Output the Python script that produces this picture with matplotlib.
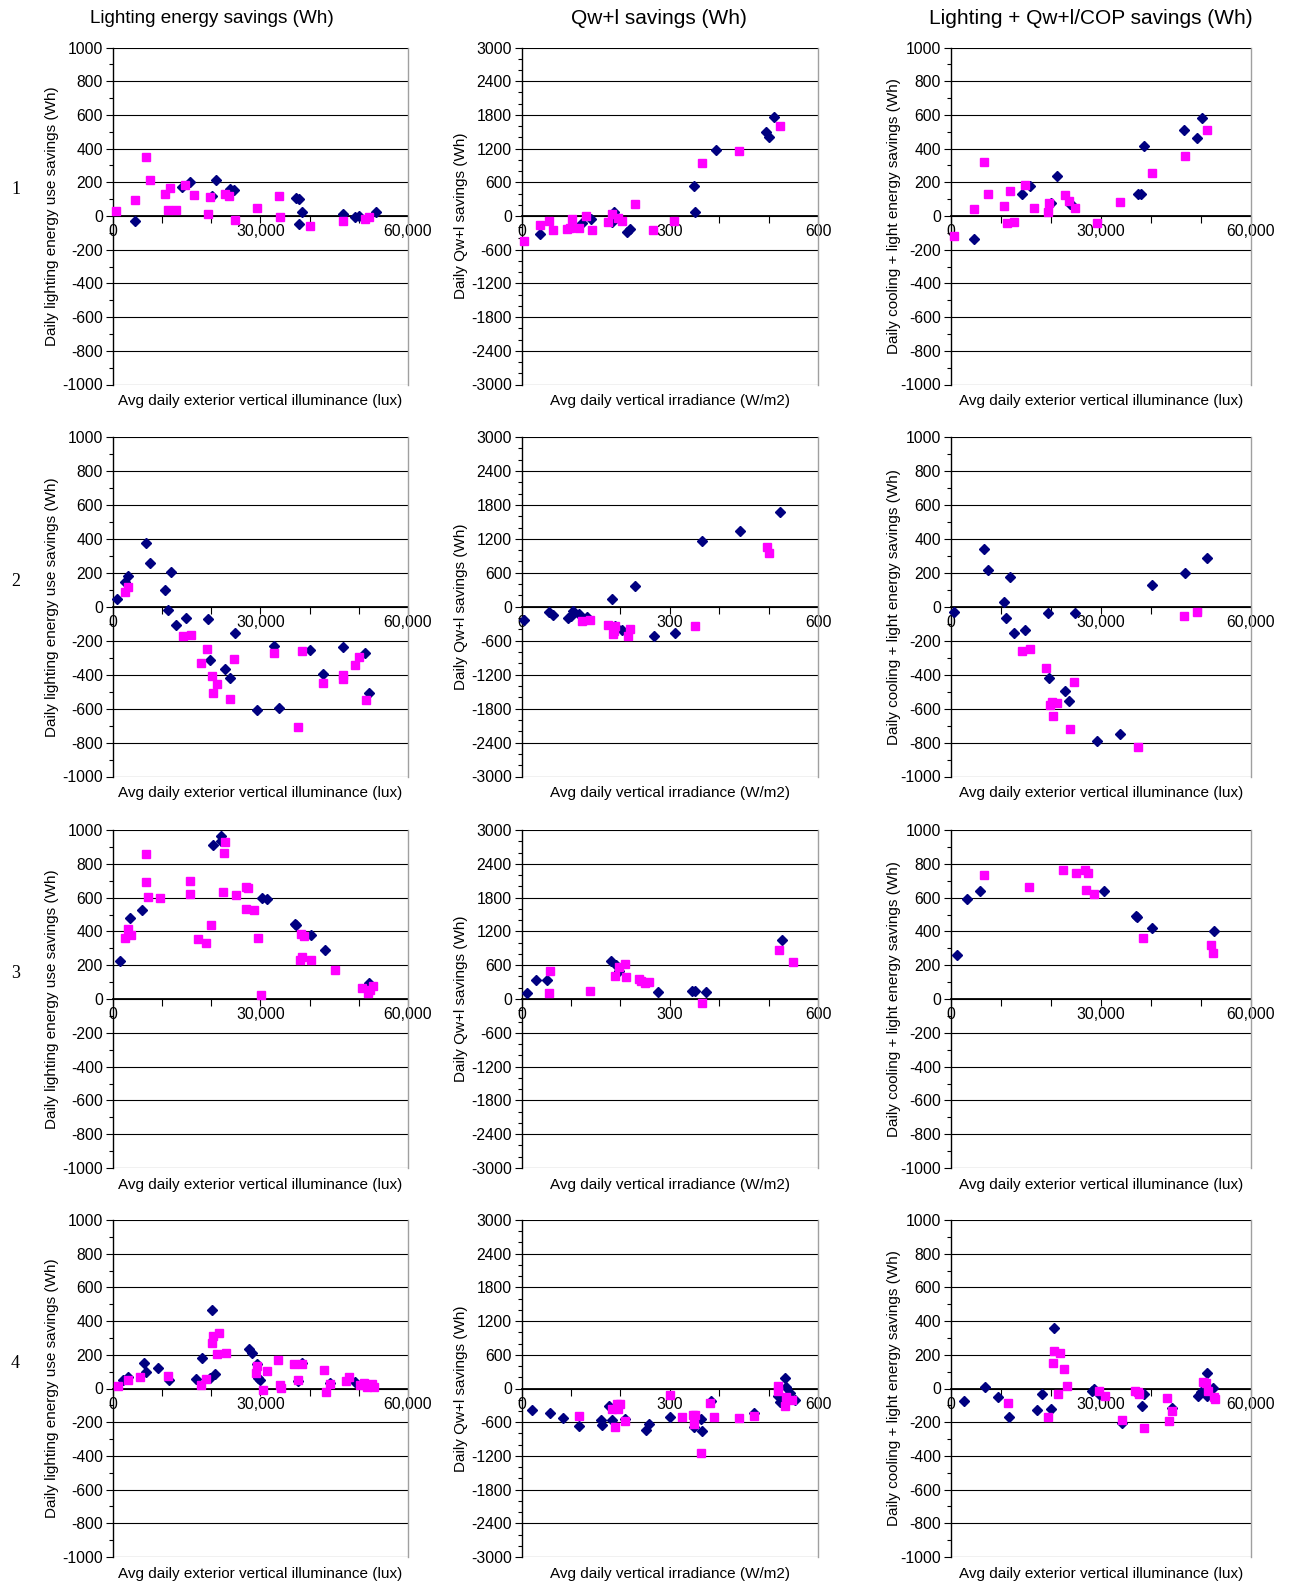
import matplotlib
matplotlib.use('Agg')
import matplotlib.pyplot as plt
from matplotlib.ticker import MultipleLocator, FuncFormatter

plt.rcParams['font.family'] = ['Liberation Sans', 'DejaVu Sans']

# ---------------- data ----------------
col_titles = ["Lighting energy savings (Wh)", "Qw+l savings (Wh)", "Lighting + Qw+l/COP savings (Wh)"]
row_labels = ["1", "2", "3", "4"]
y_labels = ["Daily lighting energy use savings (Wh)", "Daily Qw+l savings (Wh)",
            "Daily cooling + light energy savings (Wh)"]
x_labels = ["Avg daily exterior vertical illuminance (lux)", "Avg daily vertical irradiance (W/m2)",
            "Avg daily exterior vertical illuminance (lux)"]

# Row 1
r1c1_navy_x = [4530, 14130, 15680, 20080, 21090, 23800, 24600, 37300, 37800, 38530, 37860, 46780, 49150, 50030, 53540]
r1c1_navy_y = [-28, 170, 200, 119, 212, 162, 154, 109, 99, 26, -48, 12, -4, 0, 26]
r1c1_mag_x = [610, 4530, 6690, 7570, 10610, 11690, 11150, 12780, 14740, 16560, 19270, 19740, 22780, 23660, 24810,
              29270, 33800, 33940, 40020, 46780, 51170, 52050]
r1c1_mag_y = [30, 95, 352, 214, 131, 168, 34, 36, 184, 125, 14, 115, 131, 119, -24, 46, 117, -8, -61, -28, -20, -8]

r1c2_navy_x = [38, 123, 140, 182, 187, 214, 220, 348, 350, 394, 495, 500, 511]
r1c2_navy_y = [-327, -119, -59, -113, 77, -279, -238, 529, 65, 1176, 1503, 1402, 1758]
r1c2_mag_x = [5, 38, 55, 63, 91, 98, 102, 117, 131, 143, 174, 182, 195, 203, 229, 265, 309, 365, 441, 523]
r1c2_mag_y = [-440, -160, -83, -244, -232, -220, -53, -220, 6, -244, -113, 36, -30, -83, 208, -255, -89, 950, 1158, 1610]

r1c3_navy_x = [4600, 14190, 15850, 20050, 21180, 23840, 24380, 37500, 37960, 38560, 46690, 49220, 50150]
r1c3_navy_y = [-137, 129, 178, 80, 239, 69, 61, 129, 129, 416, 508, 463, 584]
r1c3_mag_x = [670, 4600, 6730, 7530, 10660, 11190, 11790, 12720, 14790, 16580, 19450, 19710, 22780, 23710, 24840,
              29300, 33770, 40160, 46820, 51280]
r1c3_mag_y = [-116, 41, 319, 131, 57, -39, 151, -35, 186, 45, 25, 78, 122, 88, 49, -39, 86, 257, 357, 512]

# Row 2
r2c1_navy_x = [830, 2420, 3110, 6770, 7600, 11820, 10710, 11260, 12780, 14930, 19350, 19830, 22800, 23770, 24810,
               29300, 32680, 33790, 40080, 42770, 46780, 51270, 52100]
r2c1_navy_y = [47, 147, 184, 376, 259, 204, 96, -18, -106, -67, -74, -312, -365, -419, -153, -610, -233, -596, -253,
               -394, -239, -274, -508]
r2c1_mag_x = [2420, 3110, 14300, 15820, 17970, 19070, 20240, 20450, 21210, 23910, 24600, 32680, 37590, 38560, 42770,
              46710, 46710, 49130, 50100, 51480]
r2c1_mag_y = [88, 118, -172, -165, -329, -249, -408, -506, -453, -543, -308, -270, -708, -259, -451, -404, -423, -341,
              -296, -549]

r2c2_navy_x = [5, 56, 64, 93, 99, 103, 117, 133, 183, 188, 204, 230, 267, 310, 366, 442, 523]
r2c2_navy_y = [-237, -101, -142, -195, -166, -71, -136, -189, 130, -343, -414, 361, -515, -468, 1166, 1332, 1681]
r2c2_mag_x = [123, 139, 174, 184, 188, 186, 215, 220, 350, 496, 501]
r2c2_mag_y = [-249, -231, -326, -485, -337, -426, -515, -391, -337, 1054, 947]

r2c3_navy_x = [660, 6690, 7550, 11780, 10590, 11120, 12640, 14760, 19400, 19730, 22770, 23700, 24890, 29330, 33830,
               40120, 46800, 51170]
r2c3_navy_y = [-32, 341, 214, 178, 30, -69, -154, -135, -36, -422, -499, -558, -34, -788, -752, 131, 200, 285]
r2c3_mag_x = [14170, 15760, 19130, 19930, 20260, 21320, 20460, 24630, 23830, 37400, 46670, 49120]
r2c3_mag_y = [-259, -246, -360, -578, -562, -568, -644, -442, -719, -828, -53, -30]

# Row 3
r3c1_navy_x = [1430, 3470, 6050, 20400, 22100, 22030, 30330, 31280, 36990, 37260, 40260, 43180, 52020]
r3c1_navy_y = [223, 481, 526, 914, 965, 934, 597, 593, 445, 437, 376, 288, 95]
r3c1_mag_x = [2580, 3130, 3740, 6730, 6730, 7140, 9520, 15710, 15710, 17270, 18900, 19990, 22370, 22780, 22640, 24960,
              27000, 27540, 27130, 28630, 29440, 30190, 38220, 38890, 38490, 38150, 40390, 45220, 50660, 51880, 52220,
              52830]
r3c1_mag_y = [360, 412, 378, 859, 691, 601, 597, 697, 623, 355, 331, 439, 632, 928, 863, 617, 664, 654, 530, 524, 360,
              22, 382, 374, 250, 230, 228, 169, 67, 35, 53, 77]

r3c2_navy_x = [11, 28, 52, 181, 191, 197, 275, 344, 351, 373, 527]
r3c2_navy_y = [113, 339, 339, 683, 600, 505, 125, 143, 137, 125, 1051]
r3c2_mag_x = [57, 55, 138, 189, 197, 209, 211, 237, 241, 250, 257, 365, 521, 549]
r3c2_mag_y = [493, 113, 137, 404, 564, 630, 398, 356, 327, 285, 297, -71, 861, 665]

r3c3_navy_x = [1330, 3330, 5870, 30550, 36950, 37220, 40290, 52560]
r3c3_navy_y = [259, 592, 638, 642, 493, 483, 418, 400]
r3c3_mag_x = [6600, 15610, 22350, 24950, 26880, 27420, 27090, 28620, 38350, 51960, 52490]
r3c3_mag_y = [731, 663, 766, 748, 766, 748, 647, 620, 358, 321, 271]

# Row 4
r4c1_navy_x = [2040, 3060, 6380, 6790, 9230, 11340, 16980, 18060, 20240, 19830, 20850, 27700, 28310, 29330, 29530,
               30010, 37550, 38430, 44140, 49230]
r4c1_navy_y = [50, 67, 154, 99, 121, 53, 55, 180, 465, 65, 85, 232, 212, 145, 65, 50, 44, 149, 30, 38]
r4c1_mag_x = [1020, 3190, 5630, 11270, 17990, 19010, 20100, 20370, 21660, 21180, 22950, 29330, 29190, 31360, 30620,
              33540, 34010, 34150, 36800, 38560, 37550, 42920, 43390, 44200, 47460, 48080, 50250, 51060, 51600, 52630,
              53100, 52150]
r4c1_mag_y = [14, 51, 69, 75, 22, 57, 271, 311, 329, 202, 208, 135, 93, 103, -8, 172, 20, 4, 145, 145, 53, 111, -20,
              26, 46, 67, 20, 32, 10, 28, 8, 18]

r4c2_navy_x = [20, 58, 83, 117, 160, 162, 177, 183, 209, 252, 257, 301, 349, 364, 366, 383, 471, 520, 523, 534, 535,
               543, 553]
r4c2_navy_y = [-384, -437, -526, -674, -556, -644, -307, -567, -544, -739, -638, -514, -686, -538, -762, -219, -437,
               -142, -248, 189, 35, -83, -201]
r4c2_mag_x = [117, 182, 192, 200, 195, 189, 209, 300, 325, 346, 351, 349, 363, 382, 389, 441, 470, 519, 519, 535, 533,
              548]
r4c2_mag_y = [-485, -366, -272, -272, -366, -680, -573, -118, -502, -473, -467, -626, -1141, -260, -514, -526, -485, 53,
              -41, -160, -307, -201]

r4c3_navy_x = [2560, 6760, 9510, 11610, 17250, 18300, 20010, 20600, 28210, 28600, 29720, 34240, 38310, 38700, 44280,
               49330, 50050, 51170, 51300, 52410]
r4c3_navy_y = [-75, 10, -53, -171, -130, -33, -124, 360, -12, -2, -32, -205, -106, -32, -114, -45, -22, 93, -43, 2]
r4c3_mag_x = [11480, 19350, 20660, 21840, 20470, 21390, 22700, 23290, 29590, 30900, 34310, 36740, 37330, 37660, 38700,
              43230, 43560, 44280, 50380, 51040, 51370, 52540, 52740]
r4c3_mag_y = [-89, -167, 221, 211, 150, -30, 114, 12, -12, -45, -185, -16, -18, -35, -232, -59, -195, -132, 41, 30,
              -16, -53, -65]

panels = [
    [(r1c1_navy_x, r1c1_navy_y, r1c1_mag_x, r1c1_mag_y),
     (r1c2_navy_x, r1c2_navy_y, r1c2_mag_x, r1c2_mag_y),
     (r1c3_navy_x, r1c3_navy_y, r1c3_mag_x, r1c3_mag_y)],
    [(r2c1_navy_x, r2c1_navy_y, r2c1_mag_x, r2c1_mag_y),
     (r2c2_navy_x, r2c2_navy_y, r2c2_mag_x, r2c2_mag_y),
     (r2c3_navy_x, r2c3_navy_y, r2c3_mag_x, r2c3_mag_y)],
    [(r3c1_navy_x, r3c1_navy_y, r3c1_mag_x, r3c1_mag_y),
     (r3c2_navy_x, r3c2_navy_y, r3c2_mag_x, r3c2_mag_y),
     (r3c3_navy_x, r3c3_navy_y, r3c3_mag_x, r3c3_mag_y)],
    [(r4c1_navy_x, r4c1_navy_y, r4c1_mag_x, r4c1_mag_y),
     (r4c2_navy_x, r4c2_navy_y, r4c2_mag_x, r4c2_mag_y),
     (r4c3_navy_x, r4c3_navy_y, r4c3_mag_x, r4c3_mag_y)],
]

# ---------------- layout ----------------
W, H = 1291, 1587
fig = plt.figure(figsize=(W / 100, H / 100), dpi=100)
fig.patch.set_facecolor('white')

col_left = [112.7, 521.7, 950.7]
col_right = [408.0, 818.0, 1251.0]
row_top = [47.5, 437.0, 830.0, 1220.0]
row_bottom = [384.5, 776.5, 1168.0, 1557.0]

NAVY = '#000080'
MAG = '#FF00FF'
TICK_FS = 11.3
LAB_FS = 11.0


def fmt_lux(v, pos):
    if abs(v % 30000) < 1e-6:
        return f"{int(v):,}"
    return ""


def fmt_irr(v, pos):
    if abs(v % 300) < 1e-6:
        return f"{int(v)}"
    return ""


for r in range(4):
    for c in range(3):
        l = col_left[c] / W
        b = 1 - row_bottom[r] / H
        w = (col_right[c] - col_left[c]) / W
        h = (row_bottom[r] - row_top[r]) / H
        ax = fig.add_axes([l, b, w, h])
        nx, ny, mx, my = panels[r][c]

        if c == 1:
            ax.set_xlim(0, 600)
            ax.set_ylim(-3000, 3000)
            ax.yaxis.set_major_locator(MultipleLocator(600))
            ax.yaxis.set_minor_locator(MultipleLocator(200))
            ax.xaxis.set_major_locator(MultipleLocator(100))
            ax.xaxis.set_major_formatter(FuncFormatter(fmt_irr))
        else:
            ax.set_xlim(0, 60000)
            ax.set_ylim(-1000, 1000)
            ax.yaxis.set_major_locator(MultipleLocator(200))
            ax.yaxis.set_minor_locator(MultipleLocator(100))
            ax.xaxis.set_major_locator(MultipleLocator(10000))
            ax.xaxis.set_major_formatter(FuncFormatter(fmt_lux))

        ax.yaxis.set_major_formatter(FuncFormatter(lambda v, p: f"{int(round(v))}"))

        ax.grid(axis='y', which='major', color='black', linewidth=0.8, zorder=0)
        ax.set_axisbelow(True)

        ax.spines['top'].set_visible(False)
        ax.spines['right'].set_color('#A0A0A0')
        ax.spines['right'].set_linewidth(1.0)
        ax.spines['left'].set_color('black')
        ax.spines['left'].set_linewidth(1.0)
        ax.spines['bottom'].set_position(('data', 0))
        ax.spines['bottom'].set_color('black')
        ax.spines['bottom'].set_linewidth(1.3)
        ax.spines['bottom'].set_zorder(1)

        ax.tick_params(axis='y', which='major', direction='out', length=5, width=0.8,
                       labelsize=TICK_FS, pad=2)
        ax.tick_params(axis='y', which='minor', direction='out', length=3, width=0.8)
        ax.tick_params(axis='x', which='major', direction='out', length=5, width=0.8,
                       labelsize=TICK_FS, pad=1)

        ax.plot(nx, ny, linestyle='none', marker='D', markersize=5, color=NAVY,
                markeredgecolor=NAVY, zorder=3, clip_on=False)
        ax.plot(mx, my, linestyle='none', marker='s', markersize=5.5, color=MAG,
                markeredgecolor=MAG, zorder=4, clip_on=False)

        ax.text(0.5, -0.05, x_labels[c], transform=ax.transAxes, ha='center', va='center',
                fontsize=LAB_FS)
        ax.text(-0.205 if c < 2 else -0.19, 0.5, y_labels[c], transform=ax.transAxes, ha='center',
                va='center', rotation=90, fontsize=LAB_FS)

# column titles
title_x = [211.5, 659.0, 1091.0]
title_fs = [13.6, 15, 15]
for c in range(3):
    fig.text(title_x[c] / W, 1 - 18.5 / H, col_titles[c], ha='center', va='center', fontsize=title_fs[c])

# row labels
row_y = [190, 581, 973, 1363]
for r in range(4):
    fig.text(15.5 / W, 1 - row_y[r] / H, row_labels[r], ha='center', va='center', fontsize=13,
             family=['Liberation Serif', 'DejaVu Serif'])

fig.savefig('out.png', dpi=100, facecolor='white')
